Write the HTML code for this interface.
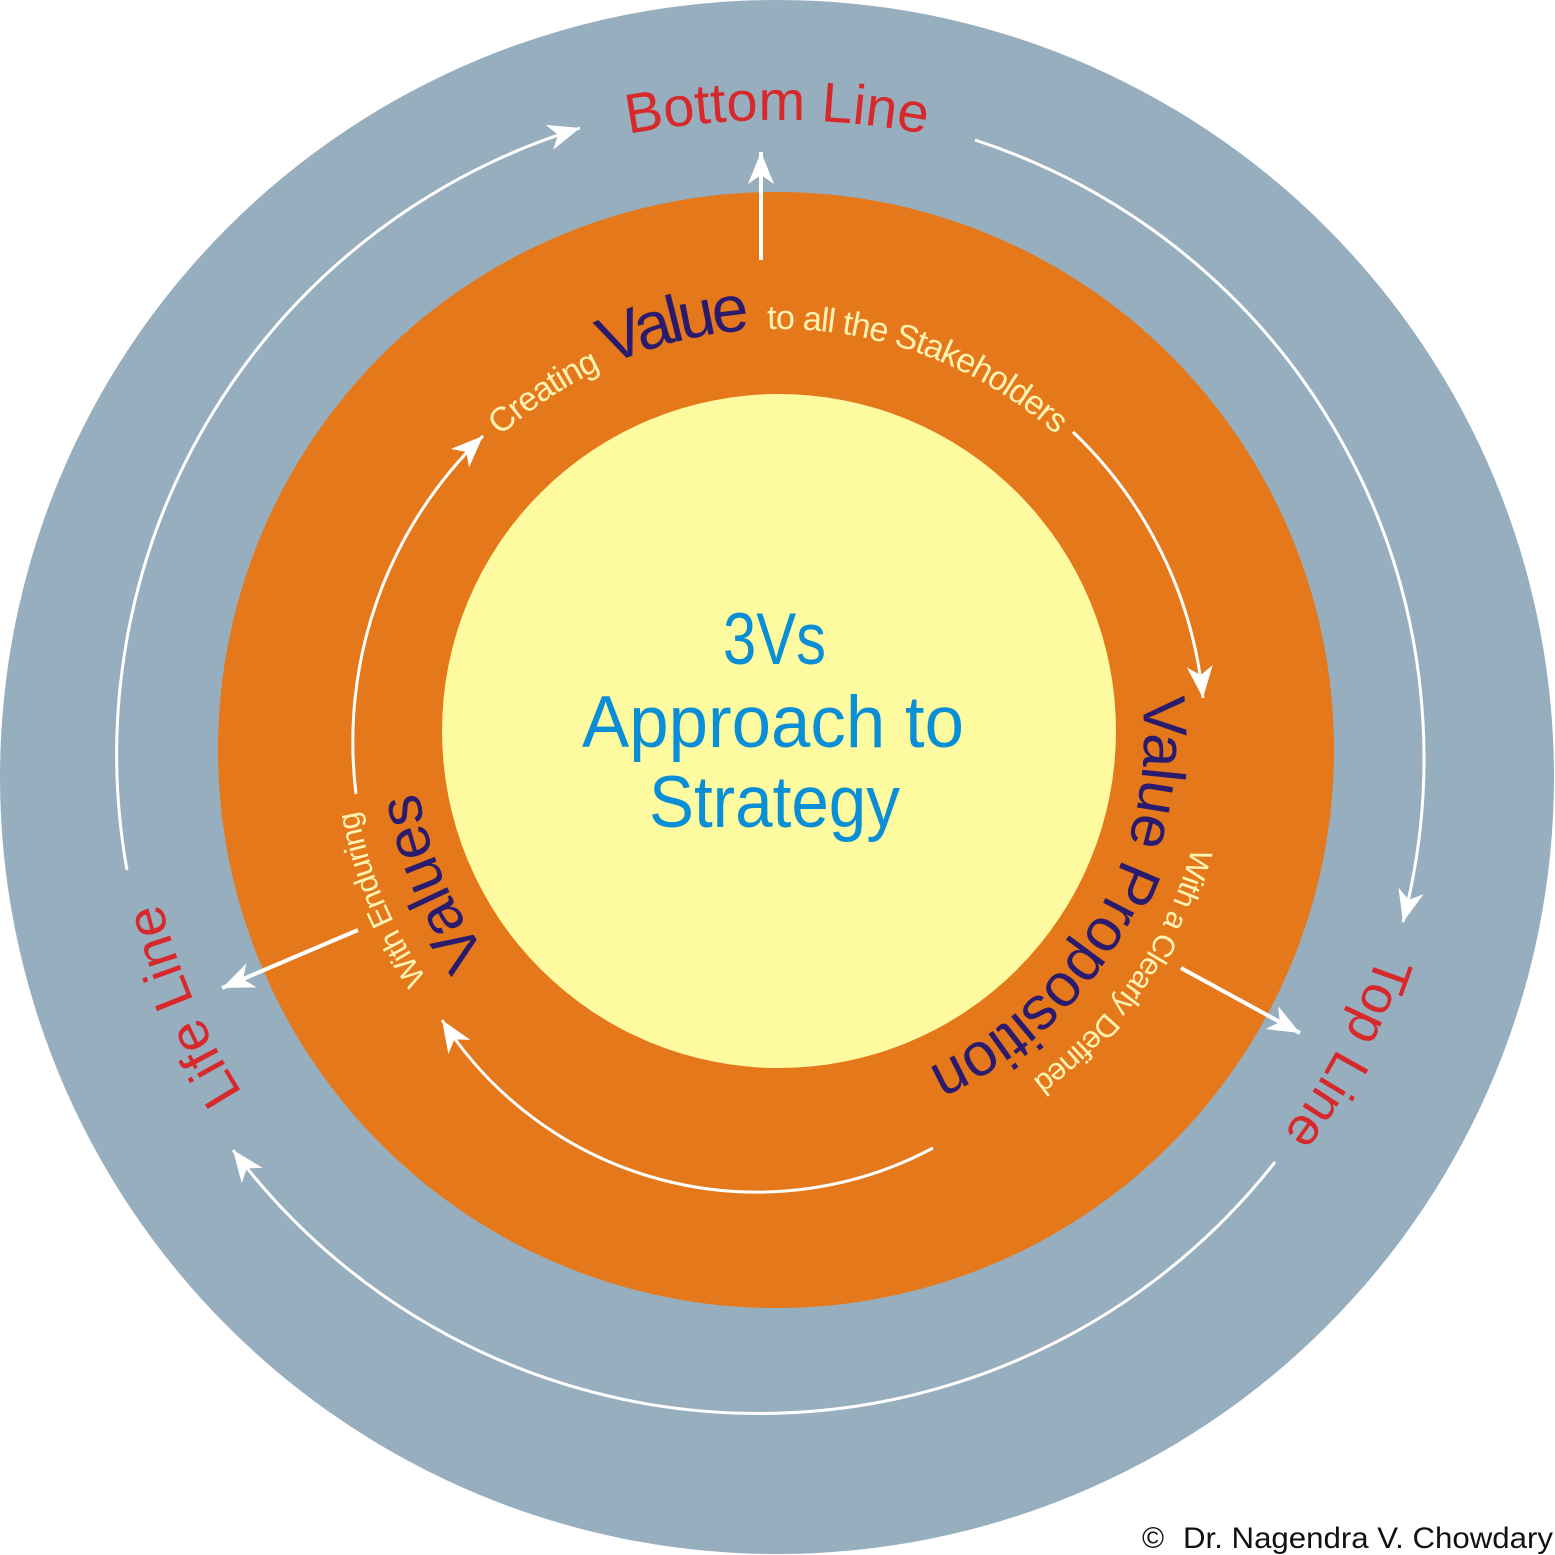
<!DOCTYPE html>
<html>
<head>
<meta charset="utf-8">
<style>
html,body{margin:0;padding:0;background:#ffffff;}
svg{display:block;}
</style>
</head>
<body>
<svg width="1555" height="1555" viewBox="0 0 1555 1555" xmlns="http://www.w3.org/2000/svg" font-family="'Liberation Sans', sans-serif">
<defs>
  <marker id="ah" viewBox="-36 -16 38 32" markerWidth="38" markerHeight="32" refX="0" refY="0" orient="auto" markerUnits="userSpaceOnUse">
    <path d="M0,0 L-32,-13 L-23,0 L-32,13 Z" fill="#ffffff"/>
  </marker>
  <path id="pBottom" d="M569.9,147.3 A800,800 0 0 1 984.1,147.3"/>
  <path id="pTop" d="M484.8,450.8 A416,416 0 0 1 1097.7,477.6"/>
  <path id="pVP" d="M1095.1,552.5 A365,365 0 0 1 779,1100"/>
  <path id="pValues" d="M596.5,1051.1 A365,365 0 0 1 436,610.2"/>
  <path id="pWCD" d="M1207,735 A428,428 0 0 1 925.4,1137.2"/>
  <path id="pWE" d="M565,1105.7 A428,428 0 0 1 376.8,588.6"/>
  <path id="pTopLine" d="M1411,752 A634,634 0 0 1 1094,1301.1"/>
  <path id="pLife" d="M460,1301.1 A634,634 0 0 1 181.2,535.2"/>
</defs>

<!-- circles -->
<circle cx="777" cy="777" r="777" fill="#97AEBF"/>
<circle cx="776" cy="750" r="558" fill="#E4781A"/>
<circle cx="779" cy="731" r="337" fill="#FEFA9F"/>

<!-- outer arcs -->
<g fill="none" stroke="#ffffff" stroke-width="3">
  <path d="M127,870 A655,655 0 0 1 580,128" marker-end="url(#ah)"/>
  <path d="M975,140 A650,650 0 0 1 1403,922" marker-end="url(#ah)"/>
  <path d="M1275,1162 A656,656 0 0 1 233,1150" marker-end="url(#ah)"/>
</g>

<!-- inner arcs -->
<g fill="none" stroke="#ffffff" stroke-width="3">
  <path d="M1073,432 A425,425 0 0 1 1203,698" marker-end="url(#ah)"/>
  <path d="M356,794 A425,425 0 0 1 483,436" marker-end="url(#ah)"/>
  <path d="M933,1148 A374,374 0 0 1 442,1020" marker-end="url(#ah)"/>
</g>

<!-- radial arrows -->
<g fill="none" stroke="#ffffff" stroke-width="4">
  <path d="M761,260 L761,152" marker-end="url(#ah)"/>
  <path d="M1181,968 L1300,1033" marker-end="url(#ah)"/>
  <path d="M358,930 L222,988" marker-end="url(#ah)"/>
</g>

<!-- outer ring labels -->
<text font-size="56" fill="#D7282B"><textPath href="#pBottom" startOffset="50%" text-anchor="middle">Bottom Line</textPath></text>
<text font-size="54" fill="#D7282B"><textPath href="#pTopLine" startOffset="307.6" text-anchor="middle">Top Line</textPath></text>
<text font-size="55" fill="#D7282B"><textPath href="#pLife" startOffset="407.8" text-anchor="middle">Life Line</textPath></text>

<!-- top orange text -->
<text font-size="34" fill="#FFF3B4" letter-spacing="-1"><textPath href="#pTop" startOffset="21.4">Creating</textPath></text>
<text font-size="66" fill="#2A1B6E" letter-spacing="-4.4"><textPath href="#pTop" startOffset="151.8">Value</textPath></text>
<text font-size="34" fill="#FFF3B4" letter-spacing="-1"><textPath href="#pTop" startOffset="315.1">to all the Stakeholders</textPath></text>

<!-- right orange text -->
<text font-size="61" fill="#2A1B6E" letter-spacing="-1"><textPath href="#pVP" startOffset="382" text-anchor="middle">Value Proposition</textPath></text>
<text font-size="31" fill="#FFF3B4" letter-spacing="-1"><textPath href="#pWCD" startOffset="257" text-anchor="middle">With a Clearly Defined</textPath></text>

<!-- left orange text -->
<text font-size="61" fill="#2A1B6E" letter-spacing="-1"><textPath href="#pValues" startOffset="235.7" text-anchor="middle">Values</textPath></text>
<text font-size="31" fill="#FFF3B4" letter-spacing="-1"><textPath href="#pWE" startOffset="280.1" text-anchor="middle">With Enduring</textPath></text>

<!-- center text -->
<g fill="#0A8FD7" font-size="73">
  <text x="723" y="664" textLength="103" lengthAdjust="spacingAndGlyphs">3Vs</text>
  <text x="582" y="747" textLength="382" lengthAdjust="spacingAndGlyphs">Approach to</text>
  <text x="649" y="827" textLength="251" lengthAdjust="spacingAndGlyphs">Strategy</text>
</g>

<!-- copyright -->
<text x="1142" y="1548" font-size="30" fill="#111111">©</text>
<text x="1183" y="1548" font-size="30" fill="#111111" textLength="370" lengthAdjust="spacingAndGlyphs">Dr. Nagendra V. Chowdary</text>
</svg>
</body>
</html>
